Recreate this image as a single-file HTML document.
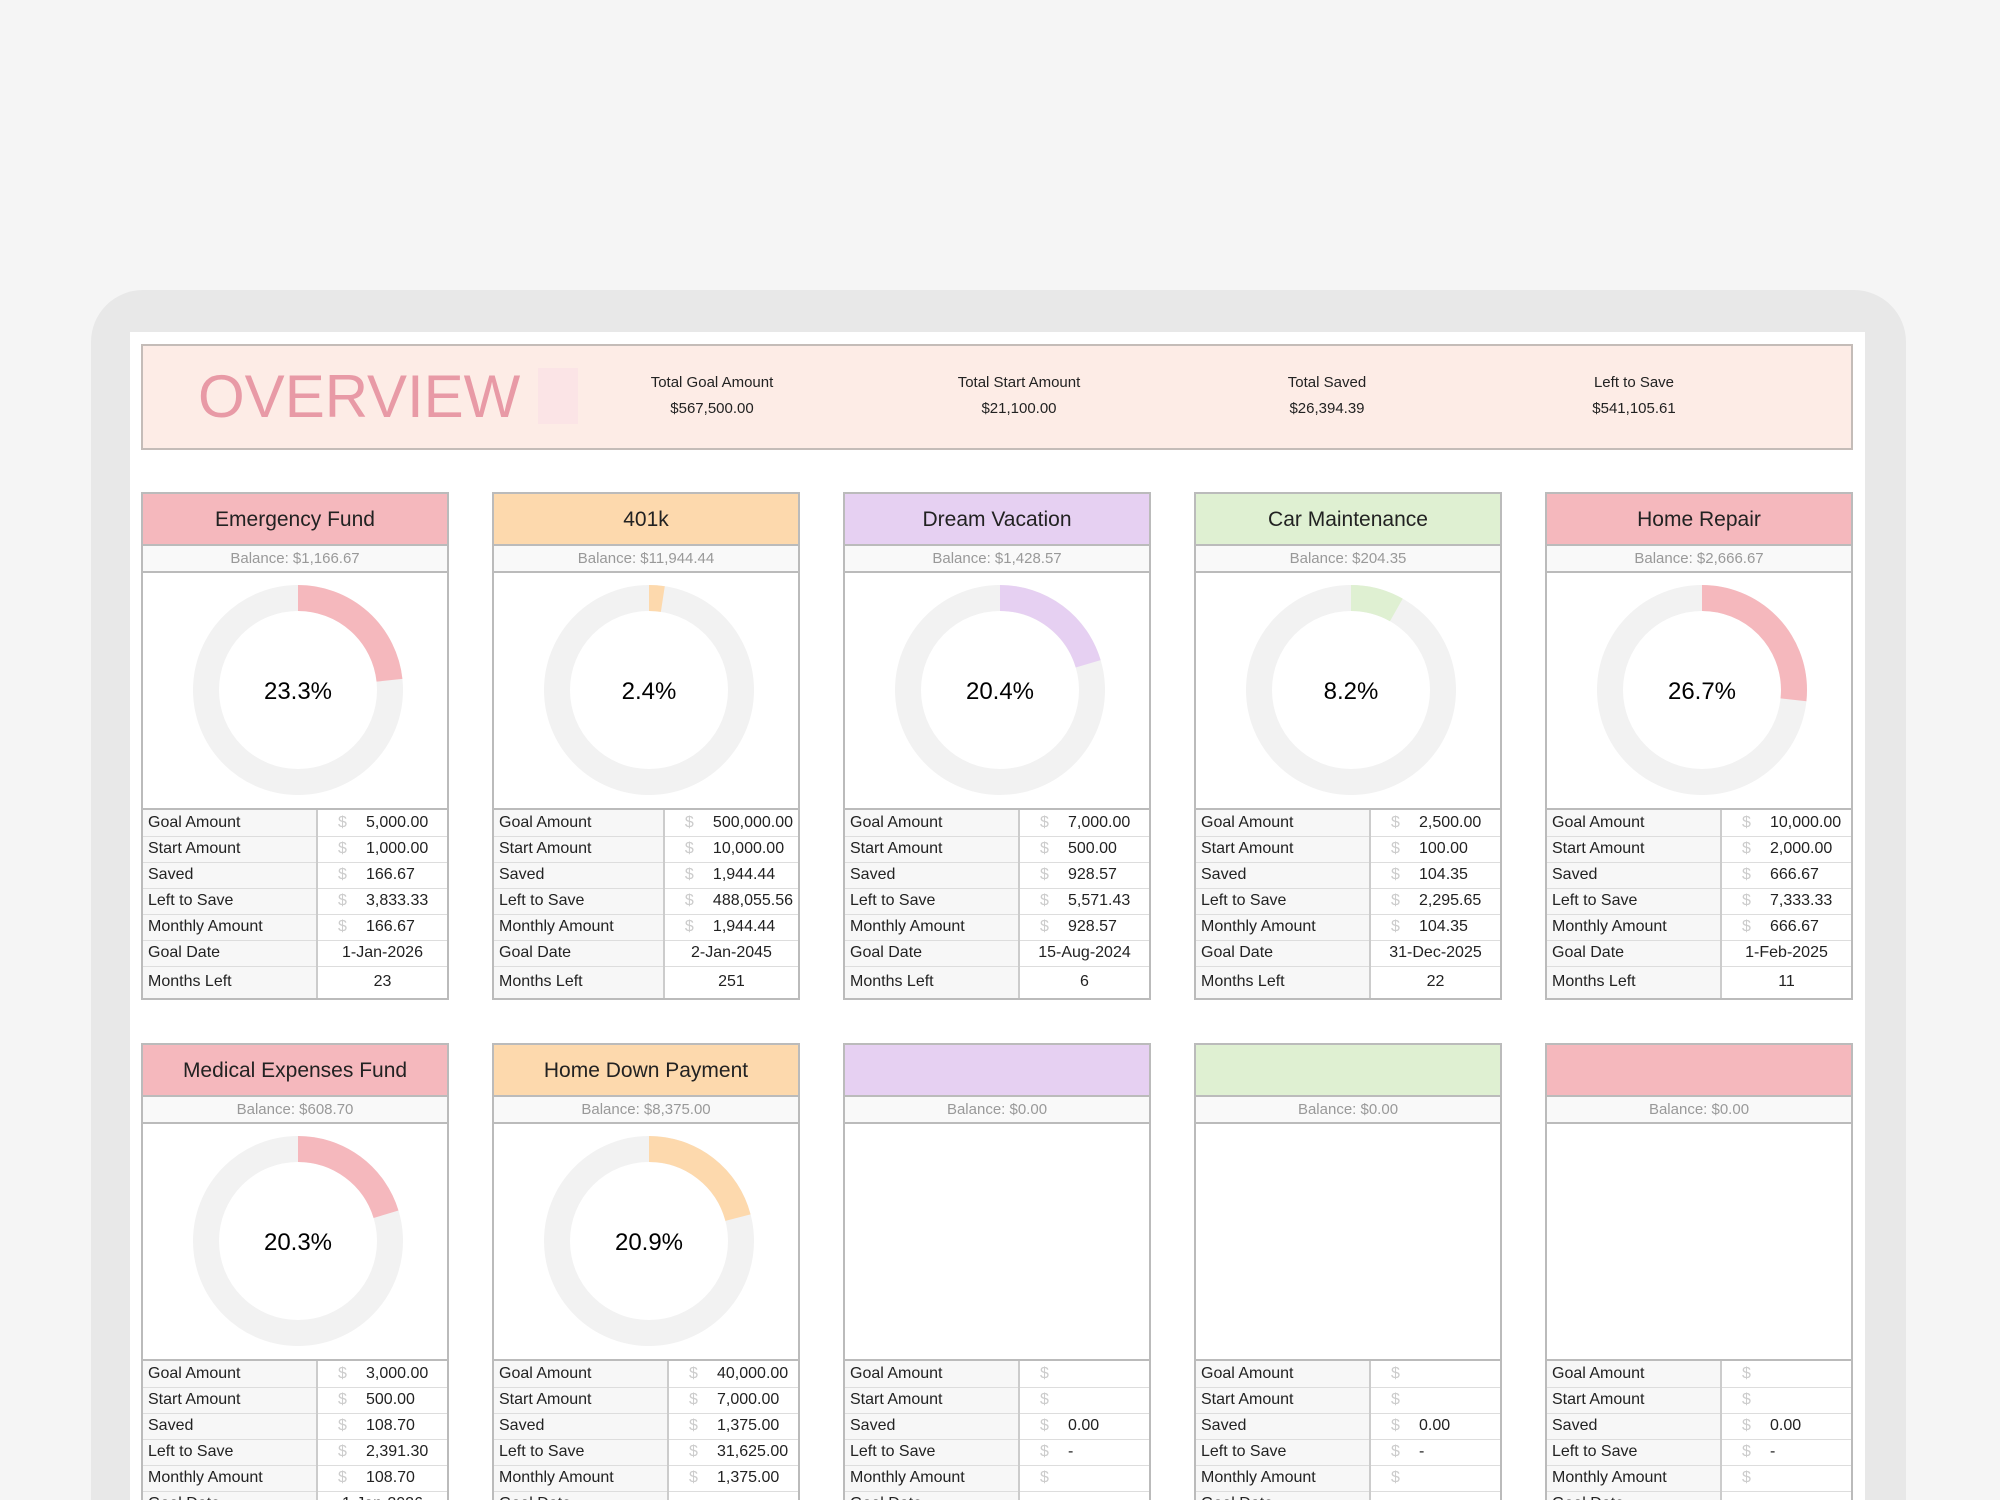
<!DOCTYPE html>
<html><head><meta charset="utf-8"><style>
*{box-sizing:border-box;margin:0;padding:0}
html,body{width:2000px;height:1500px;overflow:hidden}
body{background:#f5f5f5;font-family:"Liberation Sans",sans-serif;position:relative;color:#222}
.frame{position:absolute;left:91px;top:290px;width:1815px;height:1210px;background:#e8e8e8;border-radius:52px 52px 0 0}
.inner{position:absolute;left:130px;top:332px;width:1735px;height:1168px;background:#fff}
.ov{position:absolute;left:141px;top:344px;width:1712px;height:106px;background:#fdece6;border:2px solid #c4bcb8}
.ovt{position:absolute;left:198px;top:362px;font-size:60px;color:#e89aa6;line-height:70px}
.sq{position:absolute;left:538px;top:368px;width:40px;height:56px;background:#fbe4e6}
.st{position:absolute;width:260px;text-align:center;font-size:15px;color:#222}
.st div{height:26px;line-height:26px}
.card{position:absolute;width:308px;border:2px solid #bbb;background:#fff}
.hd{height:52px;line-height:52px;text-align:center;font-size:21px;border-bottom:2px solid #bbb}
.bal{height:27px;line-height:26px;text-align:center;font-size:15px;color:#999;background:#f9f9f9;border-bottom:2px solid #bbb}
.ch{height:237px;position:relative;border-bottom:2px solid #bbb}
.ch svg{position:absolute;left:0;top:0}
table{border-collapse:collapse;width:100%;font-size:16px}
td{height:26px;border-bottom:1px solid #ddd;padding:0 5px;white-space:nowrap}
td.l{background:#f7f7f7;width:174px;border-right:2px solid #ccc}
td.v{padding-left:20px}
td.v i{font-style:normal;color:#ccc;display:inline-block;width:28px}
td.c{text-align:center}
tr:last-child td{height:32px;border-bottom:none}
</style></head><body>
<div class="frame"></div><div class="inner"></div>
<div class="ov"></div>
<div class="ovt">OVERVIEW</div><div class="sq"></div>
<div class="st" style="left:582px;top:370px"><div>Total Goal Amount</div><div>$567,500.00</div></div>
<div class="st" style="left:889px;top:370px"><div>Total Start Amount</div><div>$21,100.00</div></div>
<div class="st" style="left:1197px;top:370px"><div>Total Saved</div><div>$26,394.39</div></div>
<div class="st" style="left:1504px;top:370px"><div>Left to Save</div><div>$541,105.61</div></div>

<div class="card" style="left:141px;top:492px"><div class="hd" style="background:#f5b8bd">Emergency Fund</div><div class="bal">Balance: $1,166.67</div>
<div class="ch"><svg width="304" height="237"><circle cx="155" cy="117" r="92" fill="none" stroke="#f2f2f2" stroke-width="26"/><circle cx="155" cy="117" r="92" fill="none" stroke="#f5b8bd" stroke-width="26" stroke-dasharray="134.7 600" transform="rotate(-90 155 117)"/><text x="155" y="126" text-anchor="middle" font-size="24" font-family="Liberation Sans">23.3%</text></svg></div>
<table><tr><td class="l">Goal Amount</td><td class="v"><i>$</i>5,000.00</td></tr><tr><td class="l">Start Amount</td><td class="v"><i>$</i>1,000.00</td></tr><tr><td class="l">Saved</td><td class="v"><i>$</i>166.67</td></tr><tr><td class="l">Left to Save</td><td class="v"><i>$</i>3,833.33</td></tr><tr><td class="l">Monthly Amount</td><td class="v"><i>$</i>166.67</td></tr><tr><td class="l">Goal Date</td><td class="c">1-Jan-2026</td></tr><tr><td class="l">Months Left</td><td class="c">23</td></tr></table></div>

<div class="card" style="left:492px;top:492px"><div class="hd" style="background:#fdd9ad">401k</div><div class="bal">Balance: $11,944.44</div>
<div class="ch"><svg width="304" height="237"><circle cx="155" cy="117" r="92" fill="none" stroke="#f2f2f2" stroke-width="26"/><circle cx="155" cy="117" r="92" fill="none" stroke="#fdd9ad" stroke-width="26" stroke-dasharray="13.9 600" transform="rotate(-90 155 117)"/><text x="155" y="126" text-anchor="middle" font-size="24" font-family="Liberation Sans">2.4%</text></svg></div>
<table><tr><td class="l">Goal Amount</td><td class="v"><i>$</i>500,000.00</td></tr><tr><td class="l">Start Amount</td><td class="v"><i>$</i>10,000.00</td></tr><tr><td class="l">Saved</td><td class="v"><i>$</i>1,944.44</td></tr><tr><td class="l">Left to Save</td><td class="v"><i>$</i>488,055.56</td></tr><tr><td class="l">Monthly Amount</td><td class="v"><i>$</i>1,944.44</td></tr><tr><td class="l">Goal Date</td><td class="c">2-Jan-2045</td></tr><tr><td class="l">Months Left</td><td class="c">251</td></tr></table></div>

<div class="card" style="left:843px;top:492px"><div class="hd" style="background:#e6d0f2">Dream Vacation</div><div class="bal">Balance: $1,428.57</div>
<div class="ch"><svg width="304" height="237"><circle cx="155" cy="117" r="92" fill="none" stroke="#f2f2f2" stroke-width="26"/><circle cx="155" cy="117" r="92" fill="none" stroke="#e6d0f2" stroke-width="26" stroke-dasharray="117.9 600" transform="rotate(-90 155 117)"/><text x="155" y="126" text-anchor="middle" font-size="24" font-family="Liberation Sans">20.4%</text></svg></div>
<table><tr><td class="l">Goal Amount</td><td class="v"><i>$</i>7,000.00</td></tr><tr><td class="l">Start Amount</td><td class="v"><i>$</i>500.00</td></tr><tr><td class="l">Saved</td><td class="v"><i>$</i>928.57</td></tr><tr><td class="l">Left to Save</td><td class="v"><i>$</i>5,571.43</td></tr><tr><td class="l">Monthly Amount</td><td class="v"><i>$</i>928.57</td></tr><tr><td class="l">Goal Date</td><td class="c">15-Aug-2024</td></tr><tr><td class="l">Months Left</td><td class="c">6</td></tr></table></div>

<div class="card" style="left:1194px;top:492px"><div class="hd" style="background:#dff0d2">Car Maintenance</div><div class="bal">Balance: $204.35</div>
<div class="ch"><svg width="304" height="237"><circle cx="155" cy="117" r="92" fill="none" stroke="#f2f2f2" stroke-width="26"/><circle cx="155" cy="117" r="92" fill="none" stroke="#dff0d2" stroke-width="26" stroke-dasharray="47.4 600" transform="rotate(-90 155 117)"/><text x="155" y="126" text-anchor="middle" font-size="24" font-family="Liberation Sans">8.2%</text></svg></div>
<table><tr><td class="l">Goal Amount</td><td class="v"><i>$</i>2,500.00</td></tr><tr><td class="l">Start Amount</td><td class="v"><i>$</i>100.00</td></tr><tr><td class="l">Saved</td><td class="v"><i>$</i>104.35</td></tr><tr><td class="l">Left to Save</td><td class="v"><i>$</i>2,295.65</td></tr><tr><td class="l">Monthly Amount</td><td class="v"><i>$</i>104.35</td></tr><tr><td class="l">Goal Date</td><td class="c">31-Dec-2025</td></tr><tr><td class="l">Months Left</td><td class="c">22</td></tr></table></div>

<div class="card" style="left:1545px;top:492px"><div class="hd" style="background:#f5b8bd">Home Repair</div><div class="bal">Balance: $2,666.67</div>
<div class="ch"><svg width="304" height="237"><circle cx="155" cy="117" r="92" fill="none" stroke="#f2f2f2" stroke-width="26"/><circle cx="155" cy="117" r="92" fill="none" stroke="#f5b8bd" stroke-width="26" stroke-dasharray="154.3 600" transform="rotate(-90 155 117)"/><text x="155" y="126" text-anchor="middle" font-size="24" font-family="Liberation Sans">26.7%</text></svg></div>
<table><tr><td class="l">Goal Amount</td><td class="v"><i>$</i>10,000.00</td></tr><tr><td class="l">Start Amount</td><td class="v"><i>$</i>2,000.00</td></tr><tr><td class="l">Saved</td><td class="v"><i>$</i>666.67</td></tr><tr><td class="l">Left to Save</td><td class="v"><i>$</i>7,333.33</td></tr><tr><td class="l">Monthly Amount</td><td class="v"><i>$</i>666.67</td></tr><tr><td class="l">Goal Date</td><td class="c">1-Feb-2025</td></tr><tr><td class="l">Months Left</td><td class="c">11</td></tr></table></div>

<div class="card" style="left:141px;top:1043px"><div class="hd" style="background:#f5b8bd">Medical Expenses Fund</div><div class="bal">Balance: $608.70</div>
<div class="ch"><svg width="304" height="237"><circle cx="155" cy="117" r="92" fill="none" stroke="#f2f2f2" stroke-width="26"/><circle cx="155" cy="117" r="92" fill="none" stroke="#f5b8bd" stroke-width="26" stroke-dasharray="117.3 600" transform="rotate(-90 155 117)"/><text x="155" y="126" text-anchor="middle" font-size="24" font-family="Liberation Sans">20.3%</text></svg></div>
<table><tr><td class="l">Goal Amount</td><td class="v"><i>$</i>3,000.00</td></tr><tr><td class="l">Start Amount</td><td class="v"><i>$</i>500.00</td></tr><tr><td class="l">Saved</td><td class="v"><i>$</i>108.70</td></tr><tr><td class="l">Left to Save</td><td class="v"><i>$</i>2,391.30</td></tr><tr><td class="l">Monthly Amount</td><td class="v"><i>$</i>108.70</td></tr><tr><td class="l">Goal Date</td><td class="c">1-Jan-2026</td></tr><tr><td class="l">Months Left</td><td class="c">23</td></tr></table></div>

<div class="card" style="left:492px;top:1043px"><div class="hd" style="background:#fdd9ad">Home Down Payment</div><div class="bal">Balance: $8,375.00</div>
<div class="ch"><svg width="304" height="237"><circle cx="155" cy="117" r="92" fill="none" stroke="#f2f2f2" stroke-width="26"/><circle cx="155" cy="117" r="92" fill="none" stroke="#fdd9ad" stroke-width="26" stroke-dasharray="120.8 600" transform="rotate(-90 155 117)"/><text x="155" y="126" text-anchor="middle" font-size="24" font-family="Liberation Sans">20.9%</text></svg></div>
<table><tr><td class="l">Goal Amount</td><td class="v"><i>$</i>40,000.00</td></tr><tr><td class="l">Start Amount</td><td class="v"><i>$</i>7,000.00</td></tr><tr><td class="l">Saved</td><td class="v"><i>$</i>1,375.00</td></tr><tr><td class="l">Left to Save</td><td class="v"><i>$</i>31,625.00</td></tr><tr><td class="l">Monthly Amount</td><td class="v"><i>$</i>1,375.00</td></tr><tr><td class="l">Goal Date</td><td class="c"></td></tr><tr><td class="l">Months Left</td><td class="c"></td></tr></table></div>

<div class="card" style="left:843px;top:1043px"><div class="hd" style="background:#e6d0f2">&nbsp;</div><div class="bal">Balance: $0.00</div><div class="ch"></div>
<table><tr><td class="l">Goal Amount</td><td class="v"><i>$</i></td></tr><tr><td class="l">Start Amount</td><td class="v"><i>$</i></td></tr><tr><td class="l">Saved</td><td class="v"><i>$</i>0.00</td></tr><tr><td class="l">Left to Save</td><td class="v"><i>$</i>-</td></tr><tr><td class="l">Monthly Amount</td><td class="v"><i>$</i></td></tr><tr><td class="l">Goal Date</td><td class="c"></td></tr><tr><td class="l">Months Left</td><td class="c"></td></tr></table></div>

<div class="card" style="left:1194px;top:1043px"><div class="hd" style="background:#dff0d2">&nbsp;</div><div class="bal">Balance: $0.00</div><div class="ch"></div>
<table><tr><td class="l">Goal Amount</td><td class="v"><i>$</i></td></tr><tr><td class="l">Start Amount</td><td class="v"><i>$</i></td></tr><tr><td class="l">Saved</td><td class="v"><i>$</i>0.00</td></tr><tr><td class="l">Left to Save</td><td class="v"><i>$</i>-</td></tr><tr><td class="l">Monthly Amount</td><td class="v"><i>$</i></td></tr><tr><td class="l">Goal Date</td><td class="c"></td></tr><tr><td class="l">Months Left</td><td class="c"></td></tr></table></div>

<div class="card" style="left:1545px;top:1043px"><div class="hd" style="background:#f5b8bd">&nbsp;</div><div class="bal">Balance: $0.00</div><div class="ch"></div>
<table><tr><td class="l">Goal Amount</td><td class="v"><i>$</i></td></tr><tr><td class="l">Start Amount</td><td class="v"><i>$</i></td></tr><tr><td class="l">Saved</td><td class="v"><i>$</i>0.00</td></tr><tr><td class="l">Left to Save</td><td class="v"><i>$</i>-</td></tr><tr><td class="l">Monthly Amount</td><td class="v"><i>$</i></td></tr><tr><td class="l">Goal Date</td><td class="c"></td></tr><tr><td class="l">Months Left</td><td class="c"></td></tr></table></div>
</body></html>
